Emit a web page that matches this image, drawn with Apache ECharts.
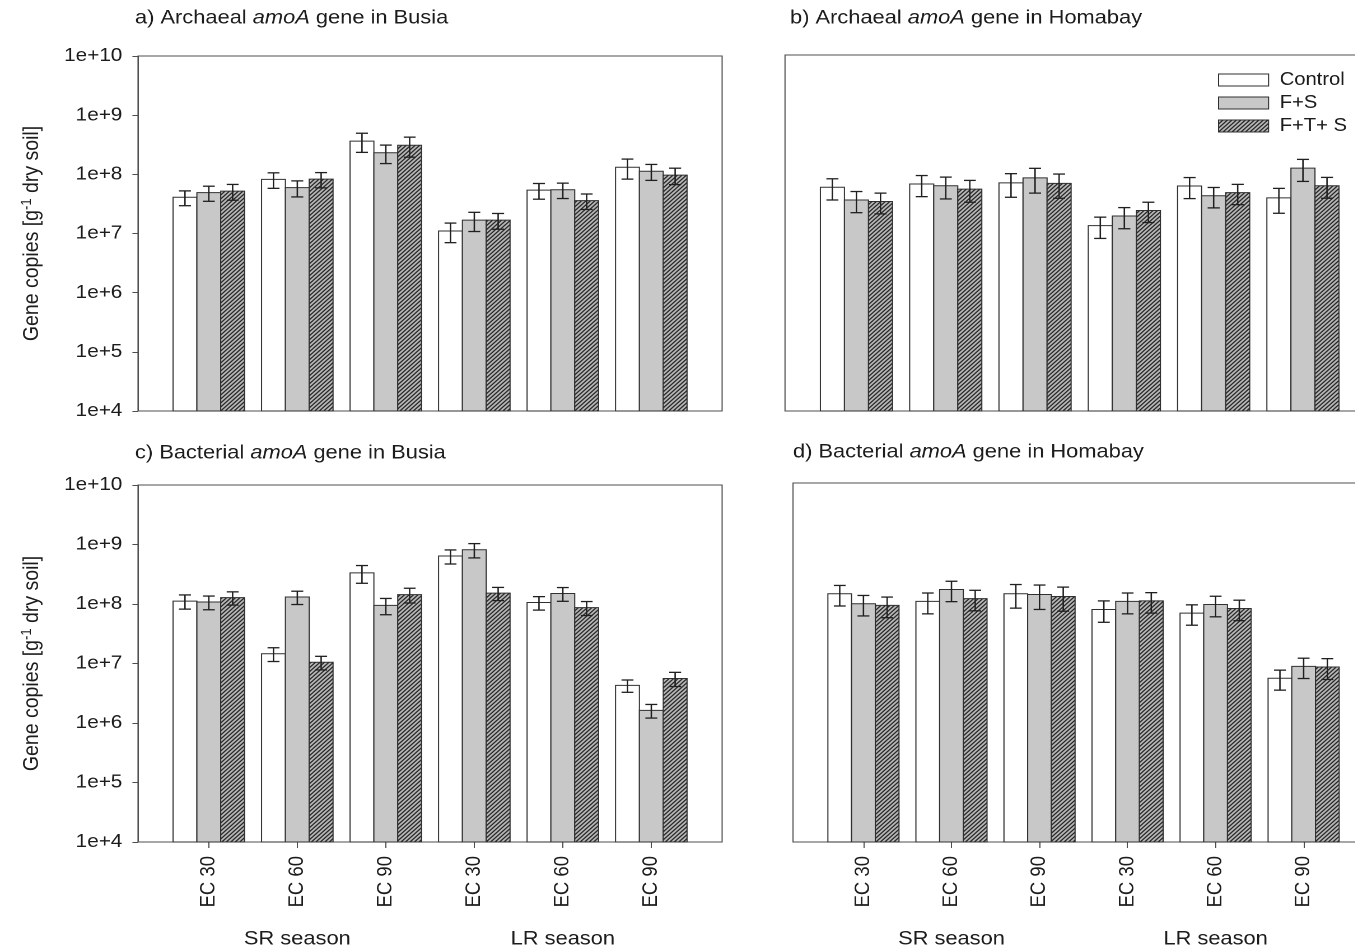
<!DOCTYPE html>
<html>
<head>
<meta charset="utf-8">
<title>amoA gene copies</title>
<script src="https://cdn.jsdelivr.net/npm/echarts@6.0.0/dist/echarts.min.js"></script>
<style>
  html, body { margin: 0; padding: 0; background: #ffffff; overflow: hidden; }
  #chart { height: 950px; transform-origin: 0 0; }
</style>
</head>
<body>
<div id="chart"></div>
<script>
// ---- data -------------------------------------------------------------
const categories = ['EC 30', 'EC 60', 'EC 90', 'EC 30', 'EC 60', 'EC 90'];
const seasons = ['SR season', 'LR season'];
const treatments = ['Control', 'F+S', 'F+T+ S'];
const yMin = 1e4;
const yMax = 1e10;

// a) Archaeal amoA, Busia  (mean and standard error, gene copies per g dry soil)
const archBusiaControl   = [4.1e7, 8.2e7, 3.65e8, 1.1e7, 5.4e7, 1.32e8];
const archBusiaControlSE = [1.15e7, 2.4e7, 1.3e8, 4.0e6, 1.6e7, 4.9e7];
const archBusiaFS        = [4.9e7, 5.95e7, 2.32e8, 1.68e7, 5.5e7, 1.13e8];
const archBusiaFSSE      = [1.4e7, 1.8e7, 8.0e7, 6.0e6, 1.6e7, 3.4e7];
const archBusiaFTS       = [5.2e7, 8.3e7, 3.1e8, 1.68e7, 3.6e7, 9.7e7];
const archBusiaFTSSE     = [1.55e7, 2.4e7, 1.15e8, 5.0e6, 1.05e7, 3.0e7];

// b) Archaeal amoA, Homabay
const archHomaControl    = [5.9e7, 6.7e7, 7.0e7, 1.33e7, 6.2e7, 3.9e7];
const archHomaControlSE  = [2.3e7, 2.6e7, 3.0e7, 5.2e6, 2.4e7, 1.75e7];
const archHomaFS         = [3.6e7, 6.25e7, 8.5e7, 1.93e7, 4.25e7, 1.24e8];
const archHomaFSSE       = [1.4e7, 2.5e7, 3.8e7, 7.5e6, 1.6e7, 5.0e7];
const archHomaFTS        = [3.4e7, 5.5e7, 6.85e7, 2.4e7, 4.8e7, 6.25e7];
const archHomaFTSSE      = [1.3e7, 2.2e7, 3.0e7, 9.0e6, 1.8e7, 2.4e7];

// c) Bacterial amoA, Busia
const bactBusiaControl   = [1.12e8, 1.46e7, 3.33e8, 6.4e8, 1.06e8, 4.28e6];
const bactBusiaControlSE = [3.0e7, 3.8e6, 1.1e8, 1.7e8, 2.7e7, 1.0e6];
const bactBusiaFS        = [1.08e8, 1.31e8, 9.5e7, 8.15e8, 1.5e8, 1.63e6];
const bactBusiaFSSE      = [2.8e7, 3.3e7, 2.9e7, 2.2e8, 3.9e7, 4.2e5];
const bactBusiaFTS       = [1.28e8, 1.05e7, 1.44e8, 1.52e8, 8.7e7, 5.6e6];
const bactBusiaFTSSE     = [3.2e7, 2.7e6, 4.0e7, 3.8e7, 2.3e7, 1.5e6];

// d) Bacterial amoA, Homabay
const bactHomaControl    = [1.41e8, 1.05e8, 1.41e8, 7.7e7, 6.7e7, 5.45e6];
const bactHomaControlSE  = [5.3e7, 4.0e7, 6.0e7, 3.0e7, 2.5e7, 2.0e6];
const bactHomaFS         = [9.6e7, 1.66e8, 1.37e8, 1.05e8, 9.3e7, 8.6e6];
const bactHomaFSSE       = [3.6e7, 6.2e7, 6.0e7, 4.0e7, 3.5e7, 3.2e6];
const bactHomaFTS        = [9.0e7, 1.17e8, 1.27e8, 1.07e8, 8.0e7, 8.4e6];
const bactHomaFTSSE      = [3.4e7, 4.4e7, 5.5e7, 4.0e7, 3.0e7, 3.2e6];

// ---- layout & style ---------------------------------------------------
const SX = 1.12;                 // the figure is drawn narrow, then widened
const FIG_W = 1355;
const FONT = '"Liberation Sans", Arial, Helvetica, sans-serif';
const INK = '#1c1c1c';
const FRAME = '#4f4f4f';
const EDGE = '#303030';
const WHISKER = '#202020';
const BAR_SHARE = 0.2693;        // one bar as a share of a category slot

function hatchPattern() {
  const s = 8;
  const c = document.createElement('canvas');
  c.width = s; c.height = s;
  const g = c.getContext('2d');
  g.fillStyle = '#b8b8b8';
  g.fillRect(0, 0, s, s);
  g.strokeStyle = '#2a2a2a';
  g.lineWidth = 2.4;
  g.beginPath();
  g.moveTo(-2, s + 2); g.lineTo(s + 2, -2);
  g.moveTo(-2, 2); g.lineTo(2, -2);
  g.moveTo(s - 2, s + 2); g.lineTo(s + 2, s - 2);
  g.stroke();
  return { image: c, repeat: 'repeat', scaleX: 0.5, scaleY: 0.5 };
}
const FILLS = ['#ffffff', '#c8c8c8', hatchPattern()];

const panels = [
  { title: 'a) Archaeal {i|amoA} gene in Busia',    tx: 135, ty: 7,
    left: 138, top: 56,  bottom: 411, unit: 88.5,  yLabels: true,  xLabels: false,
    means: [archBusiaControl, archBusiaFS, archBusiaFTS], errs: [archBusiaControlSE, archBusiaFSSE, archBusiaFTSSE] },
  { title: 'b) Archaeal {i|amoA} gene in Homabay',  tx: 790, ty: 7,
    left: 785, top: 55,  bottom: 411, unit: 89.3,  yLabels: false, xLabels: false,
    means: [archHomaControl, archHomaFS, archHomaFTS], errs: [archHomaControlSE, archHomaFSSE, archHomaFTSSE] },
  { title: 'c) Bacterial {i|amoA} gene in Busia',   tx: 135, ty: 442,
    left: 138, top: 485, bottom: 842, unit: 88.5,  yLabels: true,  xLabels: true,
    means: [bactBusiaControl, bactBusiaFS, bactBusiaFTS], errs: [bactBusiaControlSE, bactBusiaFSSE, bactBusiaFTSSE] },
  { title: 'd) Bacterial {i|amoA} gene in Homabay', tx: 793, ty: 441,
    left: 793, top: 483, bottom: 842, unit: 88.04, yLabels: false, xLabels: true,
    means: [bactHomaControl, bactHomaFS, bactHomaFTS], errs: [bactHomaControlSE, bactHomaFSSE, bactHomaFTSSE] }
];

function barRenderer(k) {
  return function (params, api) {
    const i = api.value(0), v = api.value(1), se = api.value(2);
    const top = api.coord([i, v]);
    const slot = api.coord([1, v])[0] - api.coord([0, v])[0];
    const bw = slot * BAR_SHARE;
    const x = top[0] - 1.5 * bw + k * bw;
    const base = api.coord([i, yMin])[1];
    const hi = api.coord([i, v + se])[1];
    const lo = api.coord([i, v - se])[1];
    const cx = x + bw / 2, cap = bw * 0.25;
    const ws = { stroke: WHISKER, lineWidth: 1.3 };
    return {
      type: 'group',
      children: [
        { type: 'rect', shape: { x: x, y: top[1], width: bw, height: base - top[1] },
          style: { fill: FILLS[k], stroke: EDGE, lineWidth: 1 } },
        { type: 'line', shape: { x1: cx, y1: hi, x2: cx, y2: lo }, style: ws },
        { type: 'line', shape: { x1: cx - cap, y1: hi, x2: cx + cap, y2: hi }, style: ws },
        { type: 'line', shape: { x1: cx - cap, y1: lo, x2: cx + cap, y2: lo }, style: ws }
      ]
    };
  };
}

const textBase = { fontFamily: FONT, color: INK };
const grids = [], xAxes = [], yAxes = [], series = [], titles = [];

panels.forEach(function (p, n) {
  const h = p.bottom - p.top;
  // outer frame (box) and the slot area that carries the six groups
  grids.push({ left: p.left / SX, top: p.top, width: 6.6 * p.unit / SX, height: h,
    show: true, borderColor: FRAME, borderWidth: 1, backgroundColor: 'transparent',
    outerBoundsMode: 'none' });
  grids.push({ left: (p.left + 0.3 * p.unit) / SX, top: p.top, width: 6 * p.unit / SX, height: h,
    outerBoundsMode: 'none' });
  const gFrame = 2 * n, gData = 2 * n + 1;

  xAxes.push({ gridIndex: gFrame, type: 'value', show: false, min: 0, max: 1 });
  const xi = xAxes.length;
  xAxes.push({ gridIndex: gData, type: 'category', data: categories, boundaryGap: true,
    axisLine: { show: false },
    axisTick: { show: p.xLabels, alignWithLabel: true, inside: false, length: 6,
                lineStyle: { color: FRAME, width: 1 } },
    axisLabel: Object.assign({ show: p.xLabels, rotate: 90, margin: 14, fontSize: 18.5 }, textBase),
    splitLine: { show: false } });
  if (p.xLabels) {
    xAxes.push({ gridIndex: gData, type: 'category', data: seasons, position: 'bottom', offset: 78,
      axisLine: { show: false }, axisTick: { show: false }, splitLine: { show: false },
      axisLabel: Object.assign({ margin: 9, fontSize: 19.5 }, textBase) });
  }

  yAxes.push({ gridIndex: gFrame, type: 'log', logBase: 10, min: yMin, max: yMax, splitNumber: 6,
    show: p.yLabels,
    name: p.yLabels ? 'Gene copies [g{sup|-1} dry soil]' : '',
    nameLocation: 'middle', nameRotate: 90, nameGap: 83,
    nameTextStyle: Object.assign({ fontSize: 19.5, lineHeight: 23,
      rich: { sup: Object.assign({ fontSize: 13, lineHeight: 23, verticalAlign: 'top' }, textBase) } }, textBase),
    axisLine: { show: true, lineStyle: { color: FRAME, width: 1 } },
    axisTick: { show: true, inside: false, length: 5, lineStyle: { color: FRAME, width: 1 } },
    axisLabel: Object.assign({ margin: 14, fontSize: 18.5,
      formatter: function (v) { return '1e+' + Math.round(Math.log10(v)); } }, textBase),
    splitLine: { show: false }, minorTick: { show: false } });
  const yi = yAxes.length;
  yAxes.push({ gridIndex: gData, type: 'log', logBase: 10, min: yMin, max: yMax, show: false,
    splitLine: { show: false } });

  treatments.forEach(function (t, k) {
    series.push({
      type: 'custom', name: t, xAxisIndex: xi, yAxisIndex: yi,
      renderItem: barRenderer(k),
      encode: { x: 0, y: 1 },
      itemStyle: { color: FILLS[k], borderColor: EDGE, borderWidth: 1 },
      data: p.means[k].map(function (m, i) { return [i, m, p.errs[k][i]]; })
    });
  });

  titles.push({ text: p.title, left: p.tx / SX, top: p.ty, padding: 0,
    textStyle: Object.assign({ fontSize: 19.5, fontWeight: 'normal', lineHeight: 22,
      rich: { i: Object.assign({ fontSize: 19.5, fontStyle: 'italic', lineHeight: 22 }, textBase) } }, textBase) });
});

const el = document.getElementById('chart');
el.style.width = (FIG_W / SX) + 'px';
el.style.transform = 'scaleX(' + SX + ')';

const chart = echarts.init(el, null, { renderer: 'canvas', devicePixelRatio: 2 });
chart.setOption({
  animation: false,
  backgroundColor: '#ffffff',
  title: titles,
  legend: {
    orient: 'vertical', left: 1218 / SX, top: 70, padding: 0,
    itemWidth: 50 / SX, itemHeight: 12, itemGap: 3, icon: 'rect',
    textStyle: Object.assign({ fontSize: 18, lineHeight: 20, padding: [0, 0, 0, 5] }, textBase),
    data: treatments.map(function (t, k) {
      return { name: t, itemStyle: { color: FILLS[k], borderColor: EDGE, borderWidth: 1 } };
    })
  },
  grid: grids,
  xAxis: xAxes,
  yAxis: yAxes,
  series: series
});
</script>
</body>
</html>
